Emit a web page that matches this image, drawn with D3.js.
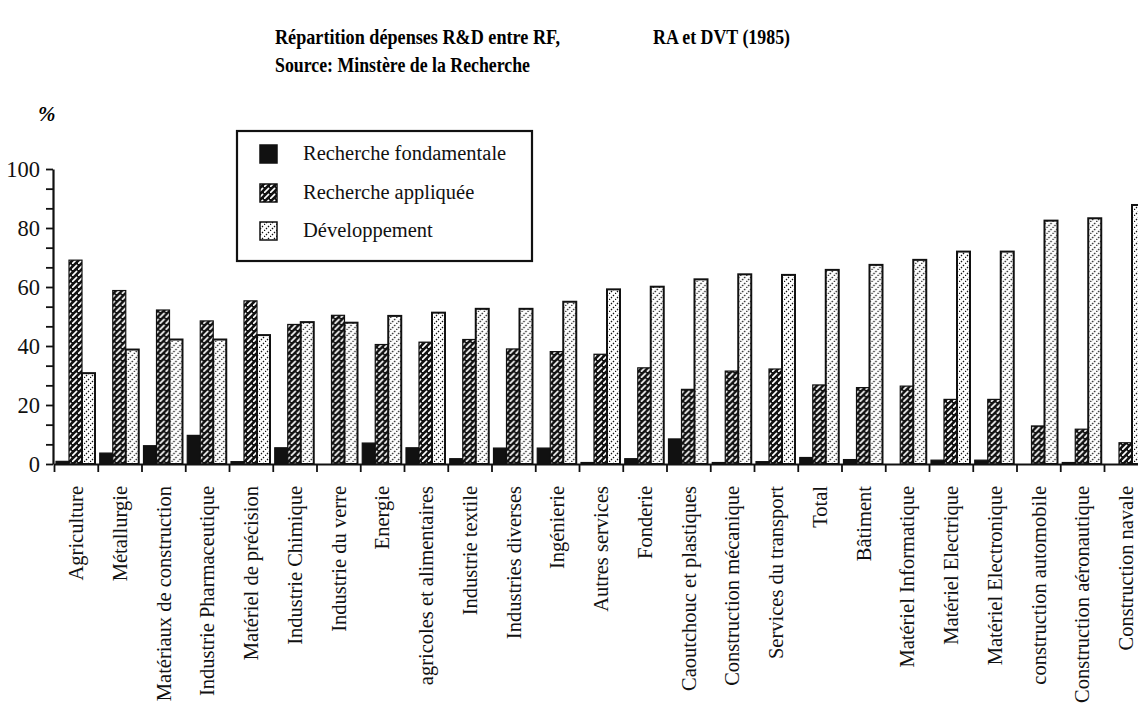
<!DOCTYPE html>
<html>
<head>
<meta charset="utf-8">
<script src="https://cdn.jsdelivr.net/npm/d3@7"></script>
<style>
  body { margin: 0; background: #fff; }
  svg { display: block; font-family: 'Liberation Serif', 'DejaVu Serif', serif; }
</style>
</head>
<body>
<svg width="1138" height="713"></svg>
<script>
const categories = [
  'Agriculture', 'Métallurgie', 'Matériaux de construction', 'Industrie Pharmaceutique',
  'Matériel de précision', 'Industrie Chimique', 'Industrie du verre', 'Energie',
  'agricoles et alimentaires', 'Industrie textile', 'Industries diverses', 'Ingénierie',
  'Autres services', 'Fonderie', 'Caoutchouc et plastiques', 'Construction mécanique',
  'Services du transport', 'Total', 'Bâtiment', 'Matériel Informatique',
  'Matériel Electrique', 'Matériel Electronique', 'construction automobile',
  'Construction aéronautique', 'Construction navale'
]
const fondamentale = [0.9, 3.7, 6.2, 9.7, 0.8, 5.5, 0, 7.1, 5.5, 1.8, 5.4, 5.4, 0.5, 1.8, 8.5, 0.5, 0.8, 2.2, 1.5, 0, 1.3, 1.3, 0, 0.5, 0]
const appliquee = [69.1, 58.8, 52.2, 48.5, 55.3, 47.3, 50.4, 40.5, 41.3, 42.2, 39.0, 38.1, 37.2, 32.6, 25.3, 31.5, 32.2, 26.8, 25.9, 26.4, 21.9, 21.9, 12.9, 11.8, 7.2]
const developpement = [30.8, 38.8, 42.2, 42.2, 43.7, 48.1, 47.9, 50.2, 51.3, 52.6, 52.6, 55.0, 59.2, 60.1, 62.6, 64.3, 64.1, 65.8, 67.5, 69.2, 72.0, 72.0, 82.5, 83.3, 87.8]
const series = ['Recherche fondamentale', 'Recherche appliquée', 'Développement']
const yLabels = [0, 20, 40, 60, 80, 100]

const svg = d3.select('svg')
const fills = ['#111', 'url(#hatch)', 'url(#dots)']

// motifs des barres
const defs = svg.append('defs')
const hatch = defs.append('pattern')
  .attr('id', 'hatch')
  .attr('patternUnits', 'userSpaceOnUse')
  .attr('width', 6).attr('height', 6)
hatch.append('rect').attr('width', 6).attr('height', 6).attr('fill', '#111')
hatch.append('path')
  .attr('d', 'M0.6,5.4 L4.6,1.4')
  .attr('stroke', '#fff').attr('stroke-width', 1.6).attr('stroke-linecap', 'round')

const dots = defs.append('pattern')
  .attr('id', 'dots')
  .attr('patternUnits', 'userSpaceOnUse')
  .attr('width', 6).attr('height', 6)
dots.append('rect').attr('width', 6).attr('height', 6).attr('fill', '#fff')
dots.append('path')
  .attr('d', 'M0,6 L6,0')
  .attr('stroke', '#111').attr('stroke-width', 1.3).attr('stroke-dasharray', '1.41,1.42')

svg.append('rect').attr('width', 1138).attr('height', 713).attr('fill', '#fff').lower()

const x = d3.scaleBand()
  .domain(categories)
  .range([54, 54 + 43.75 * categories.length])
const xs = d3.scaleBand()
  .domain(series)
  .range([2, 41])
const xe = d3.scaleLinear()
  .domain([0, categories.length])
  .range(x.range())
const y = d3.scaleLinear()
  .domain([0, 100])
  .range([464, 169])

// titre
const title = svg.append('g')
  .attr('font-weight', 'bold')
  .attr('font-size', 22)
title.append('text')
  .attr('x', 275).attr('y', 44)
  .attr('textLength', 285).attr('lengthAdjust', 'spacingAndGlyphs')
  .text('Répartition dépenses R&D entre RF,')
title.append('text')
  .attr('x', 653).attr('y', 44)
  .attr('textLength', 137).attr('lengthAdjust', 'spacingAndGlyphs')
  .text('RA et DVT (1985)')
title.append('text')
  .attr('x', 275).attr('y', 72)
  .attr('textLength', 255).attr('lengthAdjust', 'spacingAndGlyphs')
  .text('Source: Minstère de la Recherche')

svg.append('text')
  .attr('x', 38).attr('y', 121)
  .attr('font-size', 21)
  .attr('font-style', 'italic')
  .attr('font-weight', 'bold')
  .text('%')

// barres
const data = categories.map((c, i) => ({
  name: c,
  values: [fondamentale[i], appliquee[i], developpement[i]]
}))

const groups = svg.append('g')
  .selectAll('g')
  .data(data)
  .enter()
  .append('g')
  .attr('transform', d => `translate(${x(d.name)},0)`)

groups.selectAll('rect')
  .data(d => d.values.map((v, k) => ({ s: series[k], v: v, k: k })))
  .enter()
  .filter(d => d.v > 0)
  .append('rect')
  .attr('x', d => xs(d.s))
  .attr('y', d => y(d.v))
  .attr('width', xs.bandwidth())
  .attr('height', d => y(0) - y(d.v))
  .attr('fill', d => fills[d.k])
  .attr('stroke', '#111')
  .attr('stroke-width', d => d.k === 2 ? 2 : 1.2)

// axes
const yAxis = svg.append('g')
  .attr('transform', 'translate(53,0)')
  .call(d3.axisLeft(y)
    .tickValues(d3.range(16).map(i => i * 20 / 3))
    .tickSize(7)
    .tickSizeOuter(0)
    .tickPadding(6)
    .tickFormat(d => {
      const r = Math.round(d)
      return yLabels.includes(r) && Math.abs(d - r) < 0.01 ? r : ''
    }))
yAxis.select('.domain').attr('stroke', '#111').attr('stroke-width', 2.2)
yAxis.selectAll('.tick line').attr('stroke', '#111').attr('stroke-width', 1.8)
yAxis.selectAll('.tick text')
  .attr('fill', '#111')
  .attr('font-size', 22.5)
  .attr('font-family', "'Liberation Serif', serif")

const xAxis = svg.append('g')
  .attr('transform', `translate(0,${y(0)})`)
  .call(d3.axisBottom(xe)
    .tickValues(d3.range(categories.length))
    .tickSize(8)
    .tickSizeOuter(0)
    .tickFormat(''))
xAxis.select('.domain').attr('stroke', '#111').attr('stroke-width', 2.2)
xAxis.selectAll('.tick line').attr('stroke', '#111').attr('stroke-width', 1.8)

const labels = svg.append('g')
  .attr('transform', `translate(0,${y(0)})`)
  .call(d3.axisBottom(x).tickSize(0).tickPadding(0))
labels.select('.domain').remove()
labels.selectAll('.tick text')
  .attr('transform', 'rotate(-90)')
  .attr('x', -22)
  .attr('y', 0)
  .attr('dy', '0.35em')
  .attr('text-anchor', 'end')
  .attr('fill', '#111')
  .attr('font-size', 20.5)
  .attr('font-family', "'Liberation Serif', serif")

// légende
const legend = svg.append('g')
legend.append('rect')
  .attr('x', 237).attr('y', 131)
  .attr('width', 295).attr('height', 130)
  .attr('fill', '#fff')
  .attr('stroke', '#111')
  .attr('stroke-width', 2.2)

const items = legend.selectAll('g')
  .data(series)
  .enter()
  .append('g')
  .attr('transform', (d, i) => `translate(0,${[154, 193, 231][i]})`)

items.append('rect')
  .attr('x', 260).attr('y', -9)
  .attr('width', 17).attr('height', 18)
  .attr('fill', (d, i) => fills[i])
  .attr('stroke', '#111')
  .attr('stroke-width', 1.5)

items.append('text')
  .attr('x', 303).attr('y', 6)
  .attr('font-size', 20.5)
  .attr('fill', '#111')
  .text(d => d)
</script>
</body>
</html>
